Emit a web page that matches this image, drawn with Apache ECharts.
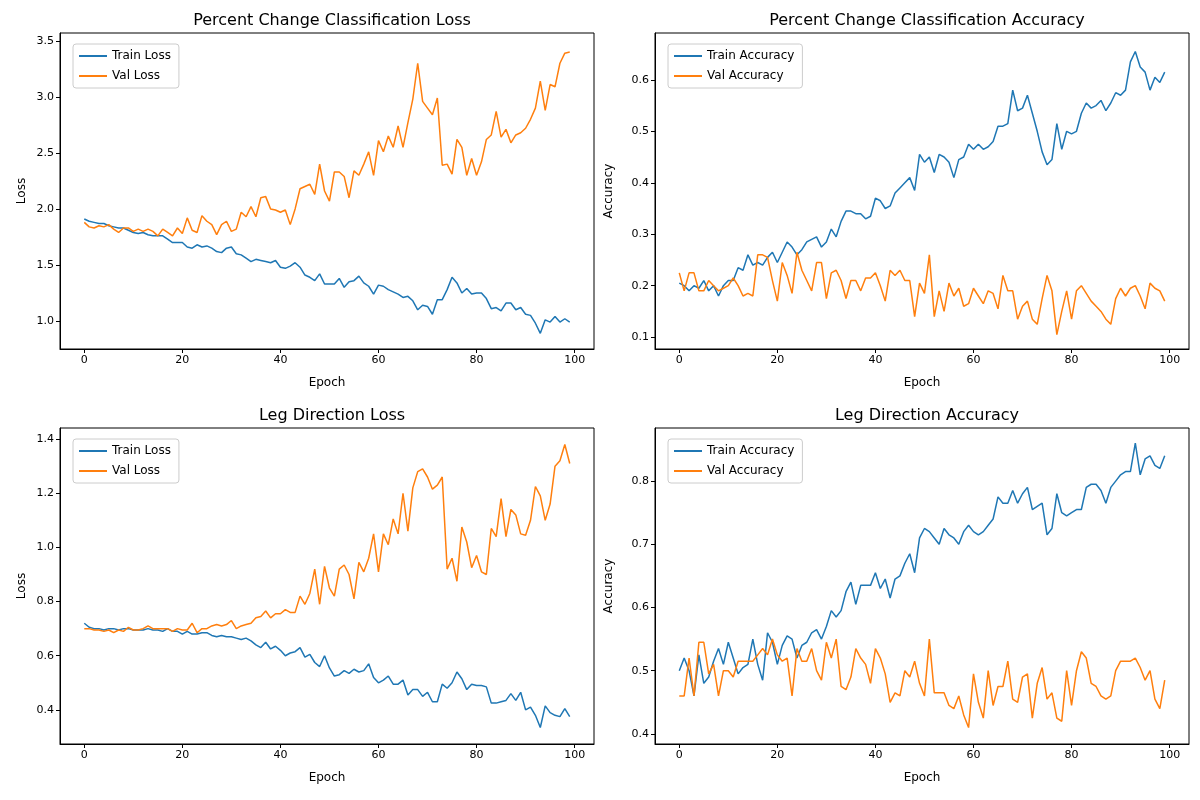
<!DOCTYPE html>
<html><head><meta charset="utf-8">
<script src="https://cdn.jsdelivr.net/npm/echarts@6/dist/echarts.min.js"></script>
<style>html,body{margin:0;padding:0;background:#fff}#c{width:1200px;height:800px}</style>
</head><body><div id="c"></div>
<script>
const epochs = Array.from({length:100},(_,i)=>i);
const pcTrainLoss = [1.91,1.89,1.88,1.87,1.87,1.85,1.84,1.83,1.83,1.81,
1.79,1.78,1.79,1.77,1.76,1.76,1.76,1.73,1.70,1.70,
1.70,1.66,1.65,1.68,1.66,1.67,1.65,1.62,1.61,1.65,
1.66,1.60,1.59,1.56,1.53,1.55,1.54,1.53,1.52,1.54,
1.48,1.47,1.49,1.52,1.48,1.41,1.39,1.36,1.42,1.33,
1.33,1.33,1.38,1.30,1.35,1.36,1.40,1.34,1.31,1.24,
1.32,1.31,1.28,1.26,1.24,1.21,1.22,1.18,1.10,1.14,
1.13,1.06,1.19,1.19,1.28,1.39,1.34,1.25,1.29,1.24,
1.25,1.25,1.20,1.11,1.12,1.09,1.16,1.16,1.10,1.12,
1.06,1.05,0.98,0.89,1.01,0.99,1.04,0.99,1.02,0.99];
const pcValLoss = [1.88,1.84,1.83,1.85,1.84,1.86,1.82,1.79,1.83,1.83,
1.80,1.82,1.80,1.82,1.80,1.76,1.82,1.79,1.76,1.83,
1.78,1.92,1.81,1.79,1.94,1.89,1.86,1.77,1.86,1.89,
1.80,1.82,1.97,1.93,2.02,1.93,2.10,2.11,2.00,1.99,
1.97,1.99,1.86,2.00,2.18,2.20,2.22,2.13,2.40,2.16,
2.07,2.33,2.33,2.29,2.10,2.34,2.30,2.40,2.51,2.30,
2.61,2.51,2.65,2.55,2.74,2.55,2.77,2.98,3.30,2.96,
2.90,2.84,2.99,2.39,2.40,2.31,2.62,2.55,2.30,2.45,
2.30,2.42,2.62,2.66,2.87,2.64,2.71,2.59,2.66,2.68,
2.72,2.80,2.90,3.14,2.88,3.11,3.09,3.30,3.39,3.40];
const pcTrainAcc = [0.205,0.20,0.19,0.20,0.195,0.21,0.19,0.20,0.18,0.20,
0.21,0.21,0.235,0.23,0.26,0.24,0.245,0.24,0.255,0.265,
0.245,0.265,0.285,0.275,0.26,0.27,0.285,0.29,0.295,0.275,
0.285,0.31,0.295,0.325,0.345,0.345,0.34,0.34,0.33,0.335,
0.37,0.365,0.35,0.355,0.38,0.39,0.40,0.41,0.385,0.455,
0.44,0.45,0.42,0.455,0.45,0.44,0.41,0.445,0.45,0.475,
0.465,0.475,0.465,0.47,0.48,0.51,0.51,0.515,0.58,0.54,
0.545,0.57,0.535,0.50,0.46,0.435,0.445,0.515,0.465,0.50,
0.495,0.50,0.535,0.555,0.545,0.55,0.56,0.54,0.555,0.575,
0.57,0.58,0.635,0.655,0.625,0.615,0.58,0.605,0.595,0.615];
const pcValAcc = [0.225,0.19,0.225,0.225,0.19,0.19,0.21,0.20,0.19,0.195,
0.20,0.215,0.20,0.18,0.185,0.18,0.26,0.26,0.255,0.21,
0.17,0.245,0.22,0.185,0.265,0.23,0.21,0.19,0.245,0.245,
0.175,0.225,0.23,0.21,0.175,0.21,0.21,0.19,0.215,0.215,
0.225,0.20,0.17,0.23,0.22,0.23,0.21,0.21,0.14,0.205,
0.185,0.26,0.14,0.19,0.15,0.205,0.18,0.195,0.16,0.165,
0.195,0.18,0.165,0.19,0.185,0.155,0.22,0.19,0.19,0.135,
0.16,0.17,0.135,0.125,0.175,0.22,0.19,0.105,0.15,0.19,
0.135,0.19,0.20,0.185,0.17,0.16,0.15,0.135,0.125,0.175,
0.195,0.18,0.195,0.20,0.18,0.155,0.205,0.195,0.19,0.17];
const ldTrainLoss = [0.72,0.705,0.70,0.70,0.695,0.70,0.70,0.695,0.70,0.70,
0.695,0.695,0.695,0.70,0.695,0.695,0.69,0.70,0.69,0.69,
0.68,0.69,0.68,0.68,0.685,0.685,0.675,0.67,0.675,0.67,
0.67,0.665,0.66,0.665,0.655,0.64,0.63,0.65,0.625,0.635,
0.62,0.60,0.61,0.615,0.63,0.595,0.605,0.575,0.56,0.60,
0.555,0.525,0.53,0.545,0.535,0.55,0.54,0.545,0.57,0.52,
0.50,0.51,0.525,0.495,0.495,0.51,0.455,0.475,0.475,0.45,
0.465,0.43,0.43,0.495,0.48,0.50,0.54,0.515,0.475,0.495,
0.49,0.49,0.485,0.425,0.425,0.43,0.435,0.46,0.435,0.465,
0.40,0.41,0.38,0.335,0.415,0.39,0.38,0.375,0.405,0.375];
const ldValLoss = [0.70,0.70,0.695,0.695,0.69,0.695,0.685,0.695,0.69,0.705,
0.695,0.695,0.70,0.71,0.70,0.70,0.70,0.70,0.69,0.70,
0.695,0.695,0.72,0.685,0.70,0.70,0.71,0.715,0.71,0.715,
0.73,0.70,0.71,0.715,0.72,0.74,0.745,0.765,0.74,0.755,
0.755,0.77,0.76,0.76,0.82,0.79,0.83,0.92,0.79,0.93,
0.85,0.82,0.92,0.935,0.90,0.81,0.945,0.91,0.96,1.05,
0.91,1.05,1.01,1.105,1.05,1.20,1.06,1.22,1.28,1.29,
1.26,1.215,1.23,1.26,0.92,0.96,0.875,1.075,1.02,0.925,
0.97,0.91,0.90,1.07,1.04,1.18,1.04,1.14,1.12,1.05,
1.045,1.10,1.225,1.19,1.10,1.16,1.30,1.32,1.38,1.31];
const ldTrainAcc = [0.50,0.52,0.50,0.46,0.525,0.48,0.49,0.515,0.535,0.51,
0.545,0.52,0.495,0.505,0.51,0.55,0.51,0.485,0.56,0.545,
0.51,0.54,0.555,0.55,0.52,0.54,0.545,0.56,0.565,0.55,
0.57,0.595,0.585,0.595,0.625,0.64,0.605,0.635,0.635,0.635,
0.655,0.63,0.645,0.615,0.645,0.65,0.67,0.685,0.655,0.71,
0.725,0.72,0.71,0.70,0.725,0.715,0.71,0.70,0.72,0.73,
0.72,0.715,0.72,0.73,0.74,0.775,0.765,0.765,0.785,0.765,
0.78,0.79,0.755,0.76,0.765,0.715,0.725,0.78,0.75,0.745,
0.75,0.755,0.755,0.79,0.795,0.795,0.785,0.765,0.79,0.80,
0.81,0.815,0.815,0.86,0.81,0.835,0.84,0.825,0.82,0.84];
const ldValAcc = [0.46,0.46,0.52,0.46,0.545,0.545,0.495,0.51,0.46,0.50,
0.50,0.49,0.515,0.515,0.515,0.515,0.525,0.535,0.525,0.55,
0.525,0.515,0.52,0.46,0.535,0.515,0.515,0.535,0.50,0.485,
0.545,0.52,0.55,0.475,0.47,0.49,0.535,0.52,0.51,0.48,
0.535,0.52,0.495,0.45,0.465,0.46,0.50,0.49,0.515,0.48,
0.46,0.55,0.465,0.465,0.465,0.445,0.44,0.46,0.43,0.41,
0.495,0.45,0.425,0.50,0.445,0.475,0.475,0.515,0.455,0.45,
0.49,0.495,0.425,0.48,0.505,0.455,0.465,0.425,0.42,0.50,
0.445,0.50,0.53,0.52,0.48,0.475,0.46,0.455,0.46,0.50,
0.515,0.515,0.515,0.52,0.505,0.485,0.50,0.455,0.44,0.485];

const panels = [
 {title:'Percent Change Classification Loss', yname:'Loss', names:['Train Loss','Val Loss'], data:[pcTrainLoss,pcValLoss], ymin:0.75, ymax:3.57, left:60, top:33},
 {title:'Percent Change Classification Accuracy', yname:'Accuracy', names:['Train Accuracy','Val Accuracy'], data:[pcTrainAcc,pcValAcc], ymin:0.077, ymax:0.691, left:655, top:33},
 {title:'Leg Direction Loss', yname:'Loss', names:['Train Loss','Val Loss'], data:[ldTrainLoss,ldValLoss], ymin:0.274, ymax:1.441, left:60, top:428},
 {title:'Leg Direction Accuracy', yname:'Accuracy', names:['Train Accuracy','Val Accuracy'], data:[ldTrainAcc,ldValAcc], ymin:0.384, ymax:0.884, left:655, top:428}
];
const colors = ['#1f77b4','#ff7f0e'];
const font = 'DejaVu Sans';
const W=534, H=316;
const opt = {animation:false, backgroundColor:'#fff', textStyle:{fontFamily:font},
 title:[], grid:[], xAxis:[], yAxis:[], legend:[], series:[]};
panels.forEach((p,i)=>{
  opt.title.push({text:p.title, left:p.left+W/2, top:p.top-25, textAlign:'center',
    textStyle:{fontFamily:font, fontSize:16, fontWeight:'normal', color:'#000'}});
  opt.grid.push({left:p.left, top:p.top, width:W, height:H, show:true, borderColor:'#000', borderWidth:1, backgroundColor:'transparent'});
  opt.xAxis.push({type:'value', gridIndex:i, min:-4.95, max:103.95, splitNumber:5,
    name:'Epoch', nameLocation:'middle', nameGap:28, nameTextStyle:{fontFamily:font,fontSize:12,color:'#000'},
    axisLine:{show:true,onZero:false,lineStyle:{color:'#000'}}, axisTick:{show:true,inside:false,length:4,lineStyle:{color:'#000'}},
    axisLabel:{fontFamily:font,fontSize:11,color:'#000',showMinLabel:false,showMaxLabel:false,margin:6},
    splitLine:{show:false}});
  opt.yAxis.push({type:'value', gridIndex:i, min:p.ymin, max:p.ymax, splitNumber:5,
    name:p.yname, nameLocation:'middle', nameGap:p.yname==='Loss'?32:40, nameTextStyle:{fontFamily:font,fontSize:12,color:'#000'},
    axisLine:{show:true,onZero:false,lineStyle:{color:'#000'}}, axisTick:{show:true,inside:false,length:4,lineStyle:{color:'#000'}},
    axisLabel:{fontFamily:font,fontSize:11,color:'#000',showMinLabel:false,showMaxLabel:false,margin:6,formatter:v=>v.toFixed(1)},
    splitLine:{show:false}});
  opt.legend.push({data:p.names, orient:'vertical', left:p.left+13, top:p.top+11, itemWidth:28, itemHeight:2, icon:'rect',
    itemGap:8, padding:[6,8,6,6], borderColor:'#ccc', borderWidth:1, borderRadius:3, backgroundColor:'rgba(255,255,255,0.8)',
    textStyle:{fontFamily:font,fontSize:12,color:'#000'}});
  p.names.forEach((n,k)=>{
    opt.series.push({type:'line', name:n, xAxisIndex:i, yAxisIndex:i, symbol:'none',
      data:epochs.map((e,j)=>[e,p.data[k][j]]), lineStyle:{color:colors[k],width:1.5}, itemStyle:{color:colors[k]}});
  });
});
echarts.init(document.getElementById('c')).setOption(opt);
</script></body></html>
